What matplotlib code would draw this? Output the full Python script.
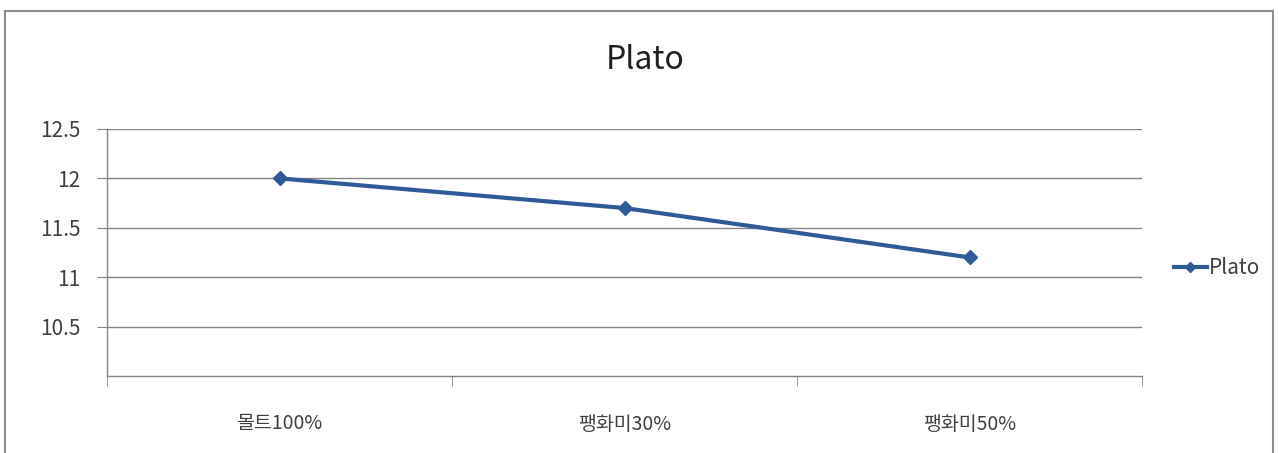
import matplotlib.pyplot as plt
from matplotlib.lines import Line2D

plt.rcParams['font.family'] = ['Noto Sans CJK KR', 'DejaVu Sans']

# data
categories = ['몰트100%', '팽화미30%', '팽화미50%']
plato = [12.0, 11.7, 11.2]
yticks = [10.5, 11, 11.5, 12, 12.5]
ytick_labels = ['10.5', '11', '11.5', '12', '12.5']

line_color = '#2E5B97'
grid_color = '#868686'
text_color = '#404040'

W, H = 1278, 453
fig = plt.figure(figsize=(W / 100, H / 100), dpi=100)
ax = fig.add_axes([107 / W, 1 - 376 / H, (1142 - 107) / W, (376 - 129) / H])

x = list(range(len(categories)))
ax.plot(x, plato, color=line_color, lw=3, marker='D', ms=7, label='Plato')

ax.set_xlim(-0.5, len(categories) - 0.5)
ax.set_ylim(10, 12.5)
ax.set_yticks(yticks)
ax.set_yticklabels(ytick_labels)
ax.set_xticks(x)
ax.set_xticklabels(categories)
ax.set_xticks([i + 0.5 for i in range(-1, len(categories))], minor=True)

ax.grid(axis='y', color=grid_color, lw=1)
ax.set_axisbelow(True)
for s in ['top', 'right']:
    ax.spines[s].set_visible(False)
for s in ['left', 'bottom']:
    ax.spines[s].set_color(grid_color)
    ax.spines[s].set_linewidth(1)

ax.tick_params(axis='y', length=7, color=grid_color, labelsize=15, labelcolor=text_color, pad=12)
ax.tick_params(axis='x', which='major', length=0, labelsize=14, labelcolor=text_color, pad=27)
ax.tick_params(axis='x', which='minor', length=7, color=grid_color)

fig.text(645 / W, 1 - 60 / H, 'Plato', ha='center', va='center', fontsize=23, color='#202020')

handle = Line2D([], [], color=line_color, lw=3, marker='D', ms=5)
fig.legend([handle], ['Plato'], loc='center left', bbox_to_anchor=(1155 / W, 1 - 268 / H),
           frameon=False, fontsize=15, handlelength=1.6, handletextpad=0.1,
           labelcolor=text_color)

# outer chart border
border = dict(color='#8c8c8c', lw=1.5, transform=fig.transFigure)
fig.add_artist(Line2D([5 / W, 5 / W], [0, 1 - 11 / H], **border))
fig.add_artist(Line2D([5 / W, 1273 / W], [1 - 11 / H, 1 - 11 / H], **border))
fig.add_artist(Line2D([1273 / W, 1273 / W], [0, 1 - 11 / H], **border))

fig.savefig('out.png', dpi=100)
